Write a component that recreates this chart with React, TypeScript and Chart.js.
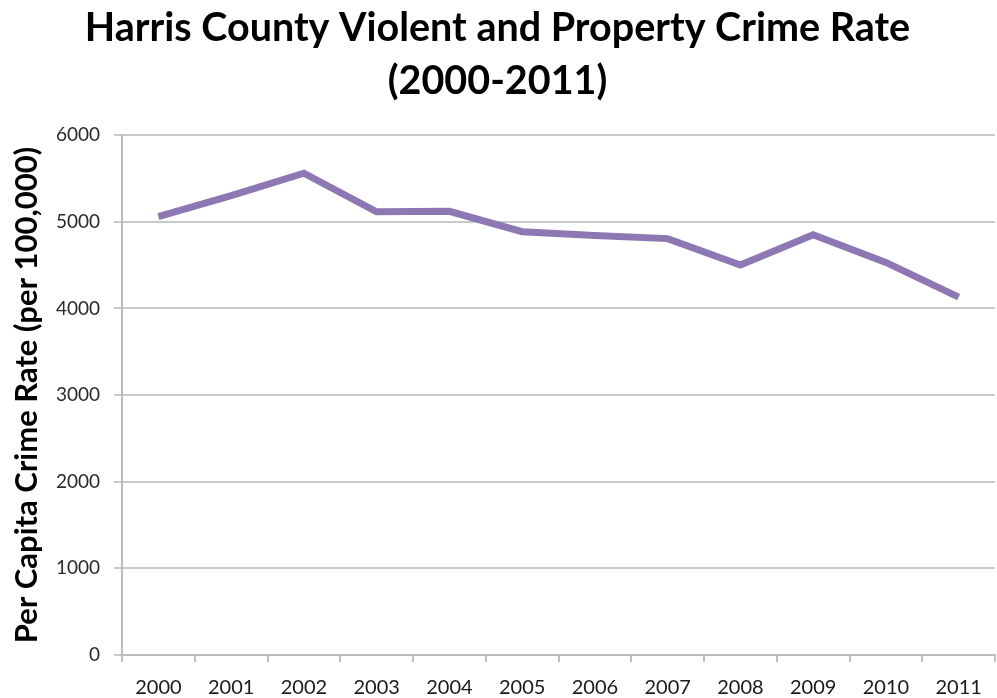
import React, { useEffect, useRef } from "react";
import { Chart, registerables } from "chart.js";

Chart.register(...registerables);

const years = ["2000", "2001", "2002", "2003", "2004", "2005", "2006", "2007", "2008", "2009", "2010", "2011"];
const crimeRate = [5060, 5300, 5560, 5115, 5120, 4885, 4840, 4805, 4500, 4850, 4530, 4130];
const titleLines = ["Harris County Violent and Property Crime Rate", "(2000-2011)"];
const yAxisTitle = "Per Capita Crime Rate (per 100,000)";

export default function App() {
  const ref = useRef<HTMLCanvasElement | null>(null);
  useEffect(() => {
    document.body.style.margin = "0";
    const ctx = ref.current!;
    const chart = new Chart(ctx, {
      type: "line",
      data: {
        labels: years,
        datasets: [
          {
            data: crimeRate,
            borderColor: "#8E78B4",
            borderWidth: 7,
            pointRadius: 0,
            tension: 0,
            fill: false,
          },
        ],
      },
      options: {
        animation: false,
        responsive: false,
        maintainAspectRatio: false,
        layout: { padding: { left: 0, right: 2, top: 0, bottom: 0 } },
        plugins: {
          legend: { display: false },
          tooltip: { enabled: false },
          title: {
            display: true,
            text: titleLines,
            color: "#000",
            font: { family: "Lato", size: 39.5, weight: "bold", lineHeight: 1.33 },
            padding: { top: 2, bottom: 28 },
          },
        },
        scales: {
          x: {
            offset: true,
            afterFit: (scale: any) => {
              scale.height = 43;
            },
            grid: {
              offset: true,
              drawOnChartArea: false,
              drawTicks: true,
              tickLength: 7,
              color: "#BDBDBD",
              lineWidth: 2,
            },
            border: { display: true, color: "#BDBDBD", width: 2 },
            ticks: {
              color: "#1a1a1a",
              font: { family: "Lato", size: 20 },
              padding: 14,
              maxRotation: 0,
              autoSkip: false,
            },
          },
          y: {
            min: 0,
            max: 6000,
            afterFit: (scale: any) => {
              scale.width = 122;
            },
            ticks: {
              stepSize: 1000,
              color: "#2a2a2a",
              font: { family: "Lato", size: 19 },
              padding: 14,
              callback: (v: any) => String(v),
            },
            grid: {
              color: "#C9C9C9",
              lineWidth: 2,
              tickLength: 8,
            },
            border: { display: true, color: "#BDBDBD", width: 2 },
            title: {
              display: true,
              text: yAxisTitle,
              color: "#000",
              font: { family: "Lato", size: 31, weight: "bold" },
              padding: { top: 8, bottom: 0 },
            },
          },
        },
      },
    });
    return () => chart.destroy();
  }, []);
  return (
    <div style={{ width: 997, height: 698, background: "#fff" }}>
      <canvas ref={ref} width={997} height={698} style={{ display: "block", width: 997, height: 698 }} />
    </div>
  );
}
